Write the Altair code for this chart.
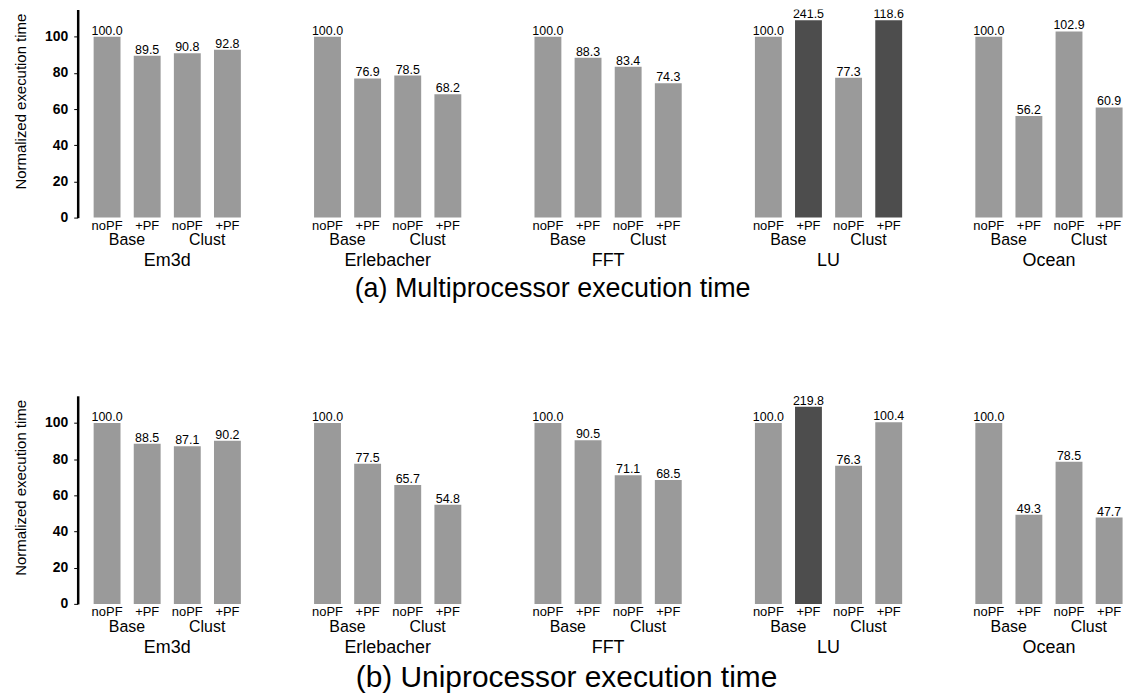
import altair as alt
import pandas as pd

# ---- data ----
benches = ["Em3d", "Erlebacher", "FFT", "LU", "Ocean"]
configs = ["Base noPF", "Base +PF", "Clust noPF", "Clust +PF"]
pf_labels = ["noPF", "+PF", "noPF", "+PF"]
scheme_labels = ["Base", "Base", "Clust", "Clust"]

mp_values = [
    [100.0, 89.5, 90.8, 92.8],
    [100.0, 76.9, 78.5, 68.2],
    [100.0, 88.3, 83.4, 74.3],
    [100.0, 241.5, 77.3, 118.6],
    [100.0, 56.2, 102.9, 60.9],
]
up_values = [
    [100.0, 88.5, 87.1, 90.2],
    [100.0, 77.5, 65.7, 54.8],
    [100.0, 90.5, 71.1, 68.5],
    [100.0, 219.8, 76.3, 100.4],
    [100.0, 49.3, 78.5, 47.7],
]
y_ticks = [0, 20, 40, 60, 80, 100]
Y_MAX = 115   # top of the y axis
CAP = 109     # bars taller than this are cut off (drawn dark)

FONT = "Liberation Sans"
W, H = 1060, 209


def make_df(values):
    rows = []
    for b, vals in zip(benches, values):
        for c, pf, sc, v in zip(configs, pf_labels, scheme_labels, vals):
            rows.append({"bench": b, "cfg": c, "pf": pf, "scheme": sc, "value": v})
    return pd.DataFrame(rows)


x_enc = alt.X(
    "bench:N", sort=benches, title=None,
    scale=alt.Scale(paddingInner=0.272, paddingOuter=0.0298, align=0.71),
)
xo_enc = alt.XOffset(
    "cfg:N", sort=configs,
    scale=alt.Scale(paddingInner=0.33, paddingOuter=0.165),
)


def make_panel(values, title, tsize, tdx, toffset):
    df = make_df(values)
    base = alt.Chart(df).transform_calculate(shown=f"min(datum.value, {CAP})")
    yscale = alt.Scale(domain=[0, Y_MAX], nice=False)

    bars = base.mark_bar().encode(
        x=x_enc.axis(labels=False, ticks=False, domain=True,
                     domainColor="black", domainWidth=2.5),
        xOffset=xo_enc,
        y=alt.Y("shown:Q", scale=yscale, title="Normalized execution time",
                axis=alt.Axis(values=y_ticks, grid=False, domainColor="black",
                              domainWidth=2.5, tickColor="black", tickSize=4,
                              labelFont=FONT, labelFontSize=14, labelFontWeight="bold",
                              labelColor="black", labelPadding=6,
                              titleFont=FONT, titleFontSize=15, titleFontWeight="normal",
                              titleColor="black", titlePadding=16, titleY=92)),
        color=alt.condition(alt.datum.value > CAP, alt.value("#4d4d4d"), alt.value("#9a9a9a")),
    )

    vals = base.mark_text(baseline="alphabetic", dy=-2, font=FONT, fontSize=12.5,
                          color="black", clip=True).encode(
        x=alt.X("bench:N", sort=benches, axis=None),
        xOffset=xo_enc,
        y=alt.Y("shown:Q", scale=yscale),
        text=alt.Text("value:Q", format=".1f"),
    )

    pf = base.mark_text(baseline="middle", font=FONT, fontSize=13, color="black").encode(
        x=alt.X("bench:N", sort=benches, axis=None),
        xOffset=xo_enc,
        y=alt.value(H + 8),
        text="pf:N",
    )

    scheme = base.transform_filter(alt.datum.pf == "noPF").mark_text(
        baseline="middle", dx=20, font=FONT, fontSize=16, color="black"
    ).encode(
        x=alt.X("bench:N", sort=benches, axis=None),
        xOffset=xo_enc,
        y=alt.value(H + 23),
        text="scheme:N",
    )

    bench_lbl = base.transform_filter(alt.datum.cfg == configs[0]).mark_text(
        baseline="middle", font=FONT, fontSize=18, color="black"
    ).encode(
        x=alt.X("bench:N", sort=benches, axis=None),
        y=alt.value(H + 44),
        text="bench:N",
    )

    return alt.layer(bars, vals, pf, scheme, bench_lbl).properties(
        width=W, height=H,
        title=alt.TitleParams(title, orient="bottom", fontSize=tsize, font=FONT,
                              fontWeight="normal", color="black", dx=tdx, offset=toffset),
    )


top = make_panel(mp_values, "(a) Multiprocessor execution time", 27, -53, 6)
bottom = make_panel(up_values, "(b) Uniprocessor execution time", 30, -39, 6)

chart = alt.vconcat(top, bottom, spacing=94).properties(
    padding={"left": 5, "top": 0, "right": 0, "bottom": 0}
).configure(background="white").configure_view(strokeWidth=0, stroke=None)

chart.save("out.html", embed_options={"renderer": "svg", "actions": False})
